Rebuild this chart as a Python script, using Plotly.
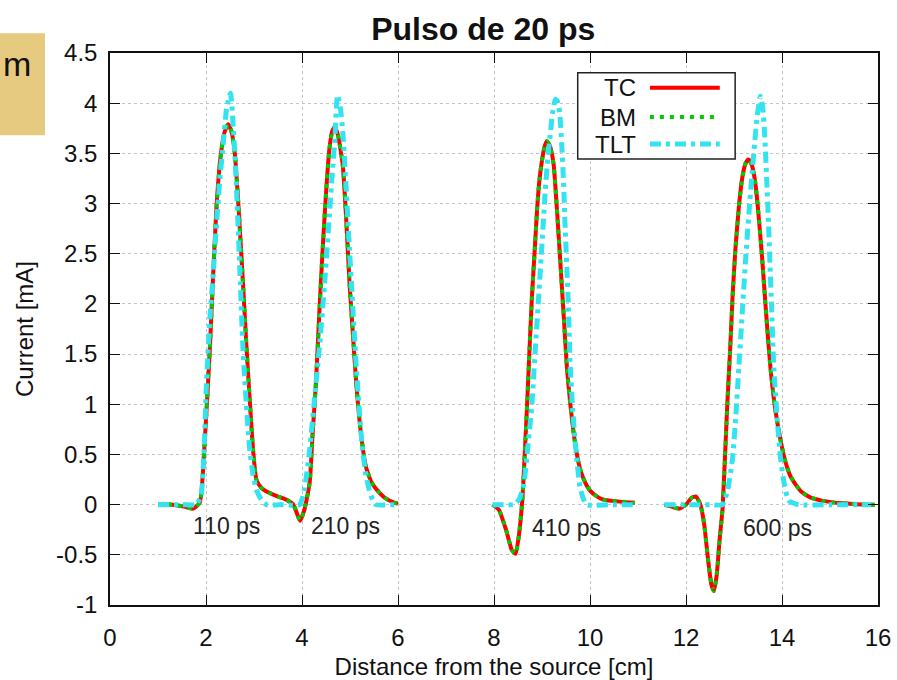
import plotly.graph_objects as go

FONT = "Liberation Sans, Arial, sans-serif"

# ---- data ----
# TC pulses (110/210 ps joined, then 410 ps, then 600 ps)
tc_x = [1.0, 1.3, 1.55, 1.73, 1.87, 1.97, 2.08, 2.15, 2.22, 2.30, 2.38, 2.46, 2.53, 2.60, 2.68, 2.77, 2.84, 2.91, 2.98,
        3.05, 3.15, 3.26, 3.45, 3.67, 3.82, 3.96, 4.05, 4.16, 4.22, 4.29, 4.36, 4.43, 4.50, 4.57, 4.63, 4.68, 4.75,
        4.85, 4.92, 4.99, 5.06, 5.13, 5.23, 5.33, 5.45, 5.61, 5.75, 5.92, 6.0,
        None,
        7.97, 8.10, 8.25, 8.37, 8.45, 8.52, 8.59, 8.64, 8.69, 8.74, 8.79, 8.85, 8.90, 8.95, 9.0, 9.05, 9.10, 9.16,
        9.24, 9.31, 9.38, 9.45, 9.52, 9.59, 9.66, 9.72, 9.79, 9.90, 10.0, 10.15, 10.28, 10.62, 10.93,
        None,
        11.55, 11.70, 11.86, 12.0, 12.12, 12.21, 12.30, 12.38, 12.46, 12.53, 12.58, 12.64, 12.70, 12.76, 12.81,
        12.86, 12.92, 12.97, 13.03, 13.10, 13.17, 13.24, 13.30, 13.36, 13.43, 13.50, 13.59, 13.67, 13.76, 13.86,
        13.97, 14.07, 14.17, 14.30, 14.41, 14.60, 14.83, 15.10, 15.40, 15.79, 15.93]
tc_y = [0.0, 0.0, -0.02, -0.04, 0.02, 0.6, 1.55, 2.3, 2.98, 3.45, 3.7, 3.79, 3.72, 3.5, 2.95, 2.21, 1.6, 1.05, 0.55,
        0.25, 0.17, 0.13, 0.09, 0.05, 0.0, -0.16, -0.05, 0.22, 0.7, 1.21, 1.9, 2.54, 3.1, 3.54, 3.72, 3.76, 3.68,
        3.38, 2.85, 2.21, 1.7, 1.21, 0.7, 0.38, 0.22, 0.12, 0.06, 0.02, 0.01,
        None,
        0.0, -0.05, -0.25, -0.45, -0.49, -0.3, 0.05, 0.5, 1.0, 1.55, 2.07, 2.55, 2.96, 3.25, 3.43, 3.56, 3.62, 3.58,
        3.4, 2.95, 2.43, 1.9, 1.36, 1.0, 0.71, 0.52, 0.36, 0.22, 0.14, 0.08, 0.05, 0.03, 0.02,
        None,
        0.0, -0.02, -0.04, 0.0, 0.07, 0.08, 0.0, -0.2, -0.55, -0.8, -0.86, -0.7, -0.35, -0.05, 0.45,
        1.0, 1.55, 2.07, 2.55, 2.96, 3.25, 3.4, 3.44, 3.4, 3.25, 2.95, 2.43, 1.9, 1.36, 0.95,
        0.64, 0.43, 0.29, 0.19, 0.125, 0.07, 0.04, 0.02, 0.01, 0.0, 0.0]

# BM overlaps TC almost exactly
bm_x = list(tc_x)
bm_y = list(tc_y)

# TLT pulses
tlt_x = [1.0, 1.5, 1.8, 1.9, 1.96, 2.01, 2.08, 2.15, 2.22, 2.29, 2.36, 2.43, 2.51, 2.57, 2.63, 2.70, 2.77, 2.84,
         2.91, 2.98, 3.05, 3.15, 3.26, 3.6, 3.95, 4.05, 4.16, 4.26, 4.36, 4.47, 4.57, 4.63, 4.68, 4.74, 4.80, 4.85,
         4.92, 4.99, 5.06, 5.13, 5.20, 5.26, 5.33, 5.40, 5.47, 5.54, 5.92,
         None,
         7.97, 8.2, 8.41, 8.52, 8.62, 8.70, 8.79, 8.86, 8.93, 9.0, 9.07, 9.12, 9.17, 9.22, 9.28, 9.32, 9.37, 9.41,
         9.45, 9.48, 9.54, 9.59, 9.64, 9.69, 9.74, 9.79, 9.86, 9.93, 10.5, 10.93,
         None,
         11.55, 12.0, 12.5, 12.76, 12.87, 12.97, 13.04, 13.10, 13.17, 13.24, 13.31, 13.38, 13.43, 13.48, 13.55,
         13.60, 13.64, 13.68, 13.72, 13.78, 13.83, 13.90, 13.97, 14.05, 14.14, 14.34, 15.0, 15.86]
tlt_y = [0.0, 0.0, 0.0, 0.1, 0.55, 1.21, 1.85, 2.3, 2.8, 3.25, 3.6, 3.95, 4.1, 3.75, 3.21, 2.4, 1.55, 1.0,
         0.55, 0.3, 0.15, 0.05, 0.0, 0.0, 0.0, 0.15, 0.55, 1.05, 1.55, 2.2, 2.88, 3.3, 3.6, 4.08, 3.95, 3.71,
         3.15, 2.54, 1.95, 1.38, 0.9, 0.55, 0.3, 0.15, 0.05, 0.0, 0.0,
         None,
         0.0, 0.0, 0.0, 0.05, 0.2, 0.55, 1.0, 1.55, 2.07, 2.6, 3.14, 3.45, 3.68, 3.9, 4.04, 4.02, 3.9, 3.6,
         3.2, 2.79, 2.1, 1.36, 0.95, 0.64, 0.38, 0.18, 0.06, 0.0, 0.0, 0.0,
         None,
         0.0, 0.0, 0.0, 0.0, 0.15, 0.46, 0.9, 1.36, 1.9, 2.43, 2.9, 3.32, 3.6, 3.86, 4.07,
         3.95, 3.68, 3.25, 2.79, 2.0, 1.36, 0.85, 0.46, 0.2, 0.04, 0.0, 0.0, 0.0]

pulse_labels = ["110 ps", "210 ps", "410 ps", "600 ps"]
pulse_label_x = [2.43, 4.91, 9.50, 13.90]
pulse_label_y = [-0.21, -0.21, -0.23, -0.23]

y_ticks = [-1, -0.5, 0, 0.5, 1, 1.5, 2, 2.5, 3, 3.5, 4, 4.5]
y_ticktext = ["-1", "-0.5", "0", "0.5", "1", "1.5", "2", "2.5", "3", "3.5", "4", "4.5"]
x_ticks = [0, 2, 4, 6, 8, 10, 12, 14, 16]

series_names = ["TC", "BM", "TLT"]
colors = ["#ff0000", "#00cc00", "#33e3f0"]
dashes = ["solid", "4px,6px", "11px,5px,4px,5px"]
widths = [4, 4, 5]

fig = go.Figure()
for name, xs, ys, c, d, w in zip(series_names, [tc_x, bm_x, tlt_x], [tc_y, bm_y, tlt_y], colors, dashes, widths):
    fig.add_trace(go.Scatter(x=xs, y=ys, mode="lines", name=name,
                             line=dict(color=c, dash=d, width=w, shape="spline", smoothing=0.5),
                             connectgaps=False, showlegend=False, hoverinfo="skip"))

# pulse time labels
for t, xx, yy in zip(pulse_labels, pulse_label_x, pulse_label_y):
    fig.add_annotation(x=xx, y=yy, text=t, showarrow=False, xanchor="center", yanchor="middle",
                       font=dict(family=FONT, size=23, color="#222222"))

# custom legend (gnuplot style: text left, sample right)
shapes = [dict(type="rect", xref="paper", yref="paper", x0=0.609, x1=0.814, y0=0.808, y1=0.964,
               line=dict(color="#222222", width=1.5), fillcolor="white", layer="above")]
leg_y = [0.937, 0.884, 0.835]
for name, c, d, w, ly in zip(series_names, colors, dashes, widths, leg_y):
    shapes.append(dict(type="line", xref="paper", yref="paper", x0=0.703, x1=0.794, y0=ly, y1=ly,
                       line=dict(color=c, dash=d, width=w), layer="above"))
    fig.add_annotation(xref="paper", yref="paper", x=0.687, y=ly, text=name, showarrow=False,
                       xanchor="right", yanchor="middle", font=dict(family=FONT, size=24, color="#111111"))

# tan box in the top-left corner (slide remnant)
shapes.append(dict(type="rect", xref="paper", yref="paper", x0=-0.15, x1=-0.0846, y0=0.851, y1=1.036,
                   line=dict(width=0), fillcolor="#e6ca80", layer="above"))
fig.add_annotation(xref="paper", yref="paper", x=-0.1425, y=0.980, text="m", showarrow=False,
                   xanchor="left", yanchor="middle", font=dict(family=FONT, size=34, color="#111111"))

axis_common = dict(showline=True, linecolor="#111111", linewidth=1.5, mirror="ticks", ticks="inside",
                   ticklen=10, tickwidth=1.3, tickcolor="#111111", showgrid=True, gridcolor="#c4c4c4",
                   gridwidth=1, griddash="dot", zeroline=False, automargin=False,
                   tickfont=dict(family=FONT, size=24, color="#111111"))

fig.update_layout(
    width=897, height=680,
    margin=dict(l=110, r=19, t=53, b=75, autoexpand=False),
    paper_bgcolor="white", plot_bgcolor="white",
    shapes=shapes,
    title=dict(text="<b>Pulso de 20 ps</b>", x=0.486, xref="paper", y=0.958, yref="container",
               xanchor="center", yanchor="middle", font=dict(family=FONT, size=32, color="#111111")),
    xaxis=dict(range=[0, 16], tickvals=x_ticks, ticklabelstandoff=10,
               title=dict(text="Distance from the source [cm]", standoff=14,
                          font=dict(family=FONT, size=24, color="#111111")), **axis_common),
    yaxis=dict(range=[-1, 4.5], tickvals=y_ticks, ticktext=y_ticktext, ticklabelstandoff=6,
               title=dict(text="Current [mA]", standoff=16,
                          font=dict(family=FONT, size=24, color="#111111")), **axis_common),
)

fig.write_html("out.html")
